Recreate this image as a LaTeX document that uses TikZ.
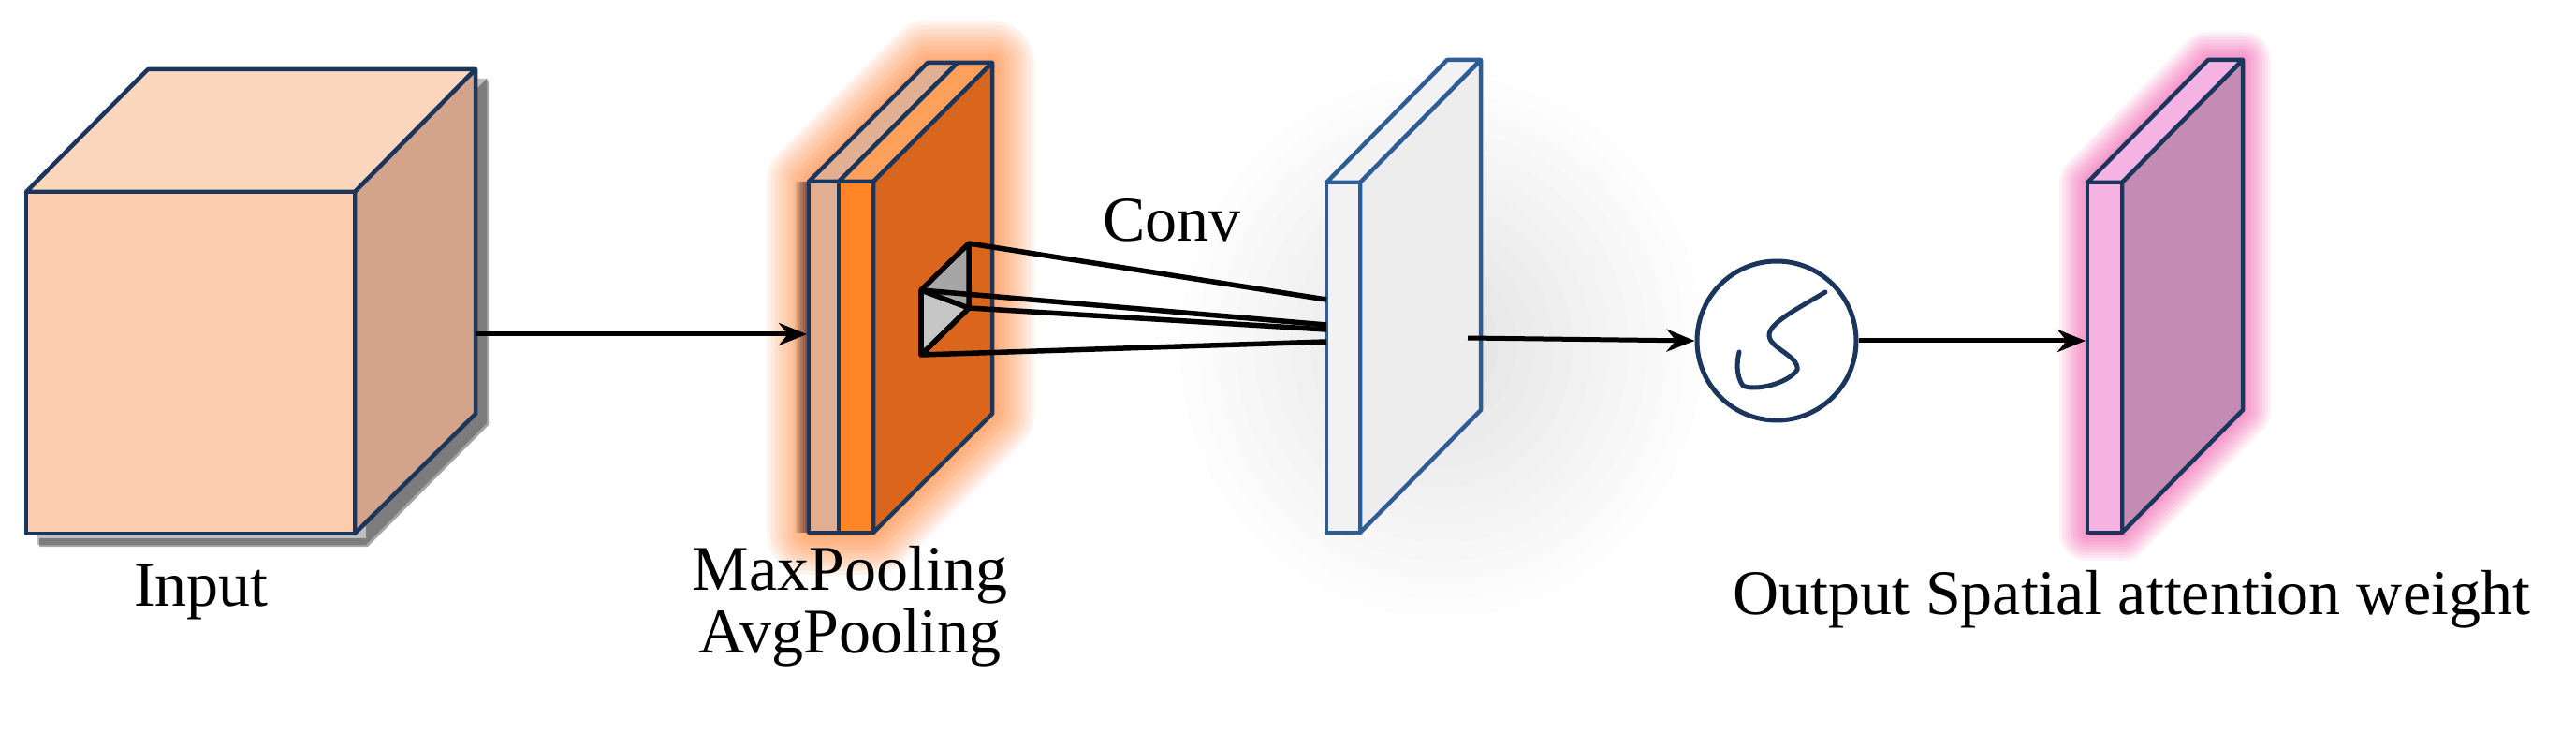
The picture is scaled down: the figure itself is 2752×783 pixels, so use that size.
\documentclass[tikz,border=0pt]{standalone}
\usepackage{fontspec}
\setmainfont{Liberation Serif}
\usetikzlibrary{arrows.meta}
\definecolor{navy}{HTML}{1B365D}
\definecolor{bnavy}{HTML}{2E5C94}
\definecolor{cubeF}{HTML}{FDCBAD}
\definecolor{cubeT}{HTML}{FDD6BE}
\definecolor{cubeS}{HTML}{D4A48A}
\definecolor{plF}{HTML}{E2AE92}
\definecolor{orF}{HTML}{FF8526}
\definecolor{orT}{HTML}{FFA05C}
\definecolor{orS}{HTML}{D9661C}
\definecolor{pkF}{HTML}{F5B3E3}
\definecolor{pkS}{HTML}{C48BB5}
\definecolor{blF}{HTML}{F2F2F2}
\tikzset{
  edge/.style={draw=navy,line width=4.5pt,line join=round},
  bedge/.style={draw=bnavy,line width=4.5pt,line join=round},
  arr/.style={line width=5pt,-{Stealth[length=30pt,width=24pt]}},
  kern/.style={line width=5.5pt,line join=round},
  lbl/.style={font=\fontsize{68}{80}\selectfont,inner sep=0pt},
}
\newcommand{\glowpoly}[3]{% color, max width, polygon
  \foreach \w in {1,...,10}{\draw[#1,opacity=0.07,line width=\w*#2/10,line join=round] #3;}}
\begin{document}
\begin{tikzpicture}[x=1pt,y=-1pt]
\useasboundingbox (0,0) rectangle (2752,783);
\fill[white] (0,0) rectangle (2752,783);
% gray halo around the conv output
\foreach \r in {1,...,12}{\fill[black,opacity=0.008] (1540,370) ellipse ({40+\r*20} and {50+\r*20});}
% ---------- Input cube ----------
\fill[black,opacity=0.25] (40,215) -- (170,84) -- (520,84) -- (520,452) -- (391,582) -- (40,582) -- cycle;
\fill[black,opacity=0.35] (391,215) -- (520,84) -- (522,88) -- (522,454) -- (393,584) -- (42,584) -- (42,575) -- (391,575) -- cycle;
\filldraw[edge,fill=cubeT] (28,205) -- (158,74) -- (508,74) -- (379,205) -- cycle;
\filldraw[edge,fill=cubeS] (379,205) -- (508,74) -- (508,442) -- (379,570) -- cycle;
\filldraw[edge,fill=cubeF] (28,205) rectangle (379,570);
\coordinate (cubeR) at (508,357);
\node[lbl] (inp) at (215,632) {Input};
% ---------- Pooling slabs ----------
\glowpoly{orange!80!red}{90pt}{(864,194) -- (991,67) -- (1060,67) -- (1060,442) -- (933,569) -- (864,569) -- cycle}
\glowpoly{black}{30pt}{(864,194) -- (864,569)}
\filldraw[edge,fill=plF] (864,194) -- (991,67) -- (1023,67) -- (896,194) -- cycle;
\filldraw[edge,fill=plF] (864,194) rectangle (896,569);
\filldraw[edge,fill=orT] (896,194) -- (1023,67) -- (1060,67) -- (933,194) -- cycle;
\filldraw[edge,fill=orS] (933,194) -- (1060,67) -- (1060,442) -- (933,569) -- cycle;
\filldraw[edge,fill=orF] (896,194) rectangle (933,569);
\coordinate (poolL) at (862,357);
% kernel
\filldraw[kern,fill=gray!70] (984,310) -- (1035,260) -- (1035,329) -- (984,379) -- cycle;
\filldraw[kern,fill=gray!45] (984,310) -- (1035,329) -- (984,379) -- cycle;
\coordinate (k1) at (1035,260);
\coordinate (k2) at (984,310);
\coordinate (k3) at (1035,329);
\coordinate (k4) at (984,379);
% ---------- Conv output slab ----------
\filldraw[bedge,fill=blF] (1417,195) -- (1546,64) -- (1582,64) -- (1453,195) -- cycle;
\filldraw[bedge,fill=gray!14] (1453,195) -- (1582,64) -- (1582,438) -- (1453,569) -- cycle;
\filldraw[bedge,fill=blF] (1417,195) rectangle (1453,569);
\coordinate (c1) at (1417,320);
\coordinate (c2) at (1417,347);
\coordinate (c3) at (1417,352);
\coordinate (c4) at (1417,365);
\draw[kern] (k1) -- (c1);
\draw[kern] (k2) -- (c2);
\draw[kern] (k3) -- (c3);
\draw[kern] (k4) -- (c4);
\node[lbl] (conv) at (1252,235) {Conv};
\coordinate (convR) at (1568,361);
% ---------- sigmoid ----------
\node[circle,draw=navy,line width=5pt,minimum size=170pt,inner sep=0pt] (sig) at (1898,364) {};
\draw[navy,line width=5pt,line cap=round,line join=round]
  (1950,312) .. controls (1920,330) and (1890,345) .. (1890,358)
  .. controls (1890,372) and (1922,380) .. (1920,395)
  .. controls (1910,410) and (1875,418) .. (1862,412)
  .. controls (1855,402) and (1855,388) .. (1858,376);
% ---------- Output slab ----------
\glowpoly{magenta!70!pink}{60pt}{(2230,195) -- (2359,64) -- (2396,64) -- (2396,438) -- (2267,569) -- (2230,569) -- cycle}
\filldraw[edge,fill=pkF] (2230,195) -- (2359,64) -- (2396,64) -- (2267,195) -- cycle;
\filldraw[edge,fill=pkS] (2267,195) -- (2396,64) -- (2396,438) -- (2267,569) -- cycle;
\filldraw[edge,fill=pkF] (2230,195) rectangle (2267,569);
\coordinate (outL) at (2228,364);
% ---------- arrows ----------
\draw[arr] (cubeR) -- (poolL);
\draw[arr] (convR) -- (sig.west);
\draw[arr] (sig.east) -- (outL);
% ---------- labels ----------
\node[lbl] (mp) at (908,614) {MaxPooling};
\node[lbl] (ap) at (908,681) {AvgPooling};
\node[lbl] (outlbl) at (2277,640) {Output Spatial attention weight};
\end{tikzpicture}
\end{document}
